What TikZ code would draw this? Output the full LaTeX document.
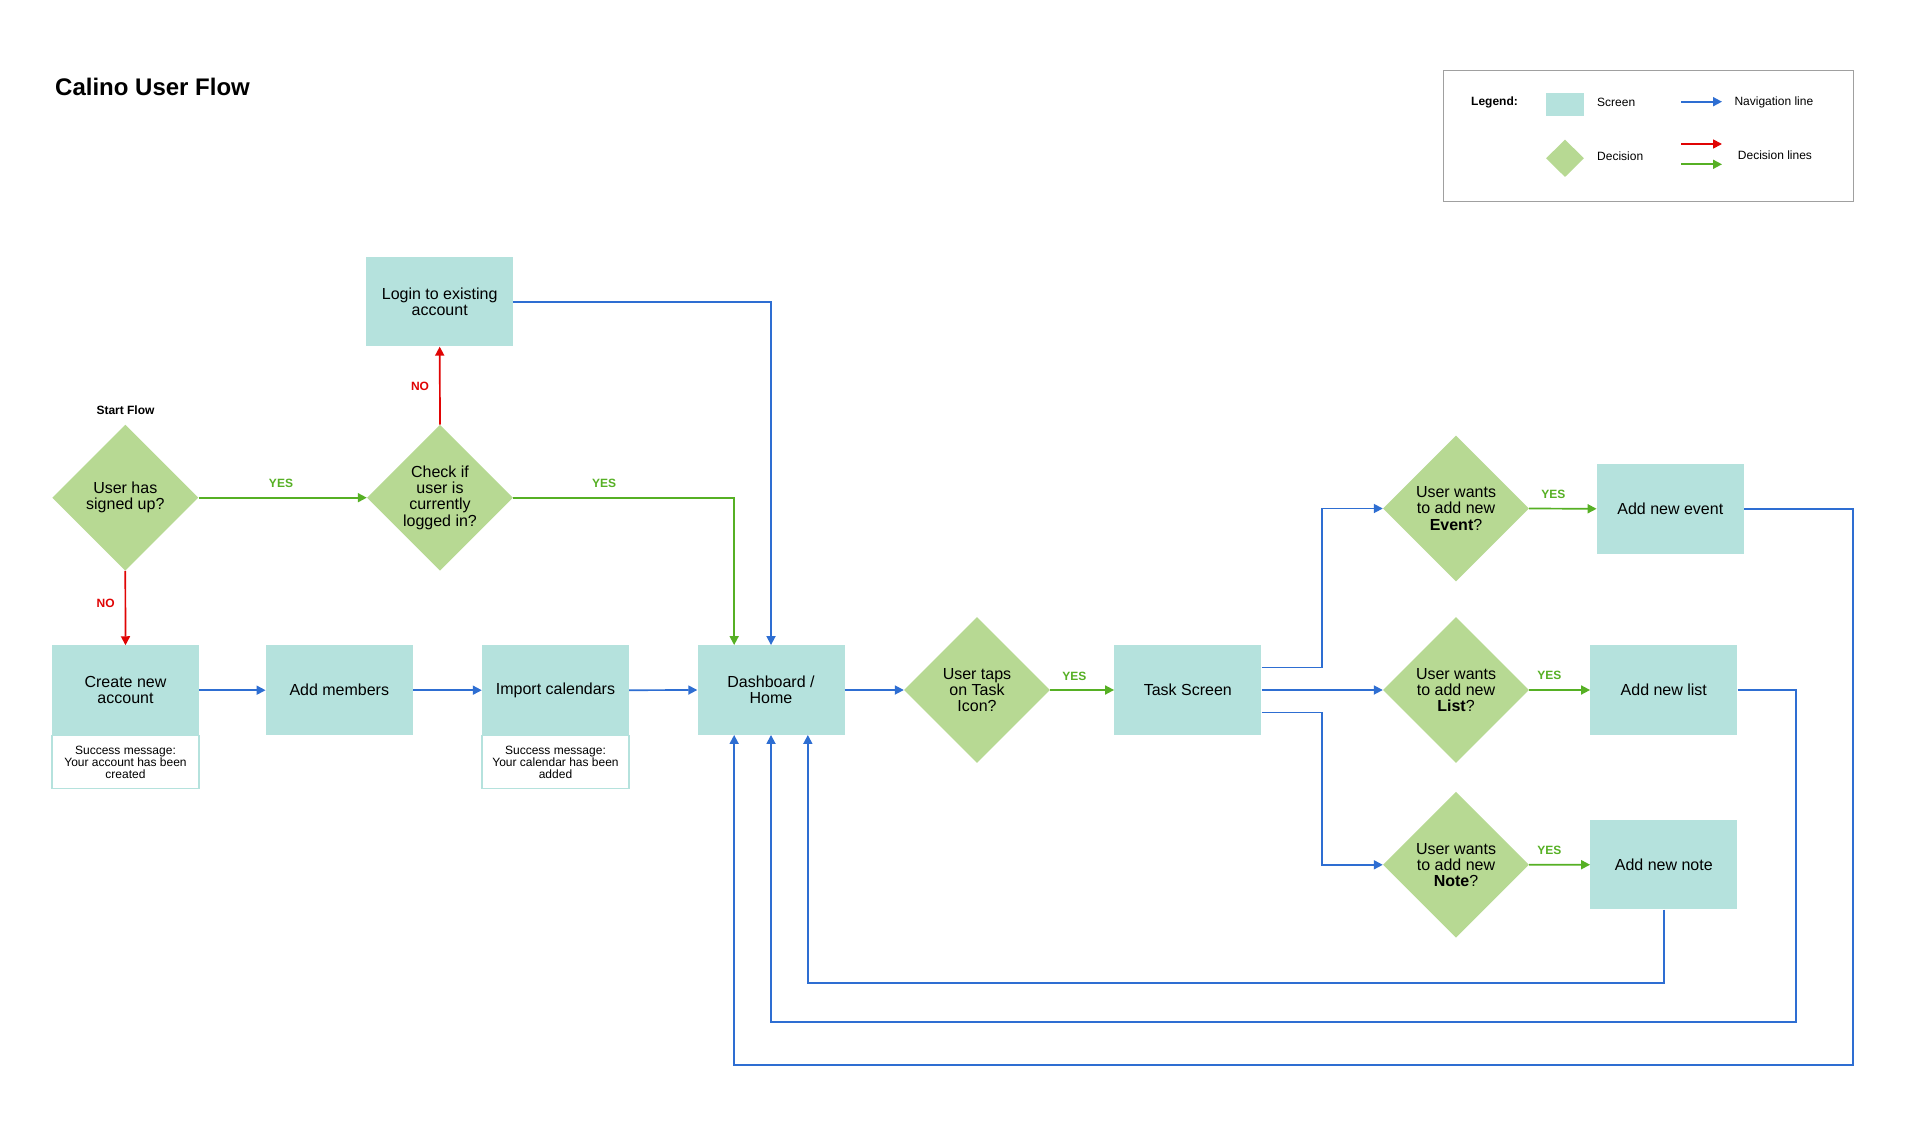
\documentclass[tikz,border=0pt]{standalone}
\usepackage{fontspec}
\setmainfont{Liberation Sans}
\usetikzlibrary{shapes.geometric,arrows.meta,calc}
\definecolor{boxfill}{RGB}{181,226,221}
\definecolor{decfill}{RGB}{183,217,147}
\definecolor{navblue}{RGB}{46,110,210}
\definecolor{decred}{RGB}{224,4,4}
\definecolor{decgreen}{RGB}{86,176,36}
\definecolor{legendgray}{RGB}{160,160,160}
\begin{document}
\begin{tikzpicture}[x=1pt,y=-1pt,
  screen/.style={fill=boxfill, draw=none, minimum width=147pt, minimum height=89.5pt, inner sep=0pt, align=center, font=\fontsize{16}{16.5}\selectfont},
  decision/.style={diamond, fill=decfill, draw=none, minimum width=146pt, minimum height=146pt, inner sep=0pt, align=center, font=\fontsize{16}{16.2}\selectfont},
  msg/.style={fill=white, draw=boxfill, line width=1.2pt, minimum width=147pt, minimum height=53pt, inner sep=0pt, align=center, font=\fontsize{12}{12}\selectfont},
  tip/.style={-{Triangle[length=9pt,width=9pt]}},
  nav/.style={draw=navblue, line width=1.7pt, tip},
  dyes/.style={draw=decgreen, line width=1.7pt, tip},
  dno/.style={draw=decred, line width=1.7pt, tip},
  yeslbl/.style={inner sep=0pt, text=decgreen, font=\bfseries\fontsize{12}{12}\selectfont},
  nolbl/.style={inner sep=0pt, text=decred, font=\bfseries\fontsize{12}{12}\selectfont},
  plain/.style={inner sep=0pt, font=\fontsize{12}{12}\selectfont},
  boldlbl/.style={inner sep=0pt, font=\bfseries\fontsize{12}{12}\selectfont}
]
\fill[white] (0,0) rectangle (1928,1145);
\useasboundingbox (0,0) rectangle (1928,1145);

% title
\node[anchor=west, inner sep=0pt, font=\bfseries\fontsize{24}{24}\selectfont] (title) at (55,86.7) {Calino User Flow};

% legend
\node[draw=legendgray, line width=1.3pt, minimum width=410pt, minimum height=131pt, inner sep=0pt] (legend) at (1648.3,136.2) {};
\node[boldlbl, anchor=west] (lgtitle) at (1471,102.3) {Legend:};
\node[fill=boxfill, minimum width=38.5pt, minimum height=23pt, inner sep=0pt] (lgscreen) at (1565.2,104.2) {};
\node[plain, anchor=west] (lgscreent) at (1597,102.3) {Screen};
\node[diamond, fill=decfill, minimum width=38pt, minimum height=37.5pt, inner sep=0pt] (lgdec) at (1565,158.3) {};
\node[plain, anchor=west] (lgdect) at (1597,156) {Decision};
\coordinate (ln1) at (1681,101.7);
\coordinate (ln2) at (1722,101.7);
\draw[nav] (ln1) -- (ln2);
\node[plain, anchor=west] (lgnavt) at (1734.3,102.3) {Navigation line};
\coordinate (lr1) at (1681,144);
\coordinate (lr2) at (1722,144);
\draw[dno] (lr1) -- (lr2);
\coordinate (lg1) at (1681,164.3);
\coordinate (lg2) at (1722,164.3);
\draw[dyes] (lg1) -- (lg2);
\node[plain, anchor=west] (lgdlt) at (1737.7,155.5) {Decision lines};

% start
\node[boldlbl] (start) at (125.5,410) {Start Flow};
\node[decision] (d1) at (125.3,497.7) {User has\\signed up?};
\node[decision] (d2) at (440,497.7) {Check if\\user is\\currently\\logged in?};
\node[screen] (login) at (439.7,301.7) {Login to existing\\account};

% main row
\node[screen] (create) at (125.5,690.2) {Create new\\account};
\node[msg, anchor=north] (createmsg) at (create.south) {Success message:\\Your account has been\\created};
\node[screen] (members) at (339.3,690.2) {Add members};
\node[screen] (import) at (555.5,690.2) {Import calendars};
\node[msg, anchor=north] (importmsg) at (import.south) {Success message:\\Your calendar has been\\added};
\node[screen] (dash) at (771,690) {Dashboard /\\Home};
\node[decision] (dtask) at (977,690) {User taps\\on Task\\Icon?};
\node[screen] (tasks) at (1187.8,690) {Task Screen};

% right branch
\node[decision] (devent) at (1456,508.5) {User wants\\to add new\\\textbf{Event}?};
\node[decision] (dlist) at (1456,690) {User wants\\to add new\\\textbf{List}?};
\node[decision] (dnote) at (1456,864.8) {User wants\\to add new\\\textbf{Note}?};
\node[screen] (evbox) at (1670.3,508.8) {Add new event};
\node[screen] (lsbox) at (1663.8,690) {Add new list};
\node[screen] (ntbox) at (1663.8,864.7) {Add new note};

% helper coordinates
\coordinate (dTop1) at ($(dash.north west)!0.5!(dash.north)$);
\coordinate (dBot1) at ($(dash.south west)!0.5!(dash.south)$);
\coordinate (dBot3) at ($(dash.south east)!0.5!(dash.south)$);
\coordinate (tOut1) at ($(tasks.east)!0.5!(tasks.north east)$);
\coordinate (tOut3) at ($(tasks.east)!0.5!(tasks.south east)$);
\coordinate (bx) at (1321.7,0);
\coordinate (evCorner) at (1853,1065);
\coordinate (lsCorner) at (1795.7,1022.3);
\coordinate (ntLevel) at (0,982.7);

% decision connectors
\draw[dyes] (d1.east) -- (d2.west);
\node[yeslbl] (yes1) at (281,483.3) {YES};
\draw[dno] (d1.south) -- (create.north);
\node[nolbl] (no1) at (105.7,603.3) {NO};
\draw[dno] (d2.north) -- (login.south);
\node[nolbl] (no2) at (420,386.7) {NO};
\draw[dyes] (d2.east) -| (dTop1);
\node[yeslbl] (yes2) at (604,483.3) {YES};
\draw[nav] (login.east) -| (dash.north);

% main flow
\draw[nav] (create.east) -- (members.west);
\draw[nav] (members.east) -- (import.west);
\draw[nav] (import.east) -- (dash.west);
\draw[nav] (dash.east) -- (dtask.west);
\draw[dyes] (dtask.east) -- (tasks.west);
\node[yeslbl] (yes3) at (1074.3,676) {YES};

% task screen branches
\draw[nav] (tOut1) -| (bx |- devent.west) -- (devent.west);
\draw[nav] (tasks.east) -- (dlist.west);
\draw[nav] (tOut3) -| (bx |- dnote.west) -- (dnote.west);

\draw[dyes] (devent.east) -- (evbox.west);
\node[yeslbl] (yes4) at (1553.3,494) {YES};
\draw[dyes] (dlist.east) -- (lsbox.west);
\node[yeslbl] (yes5) at (1549.3,675.5) {YES};
\draw[dyes] (dnote.east) -- (ntbox.west);
\node[yeslbl] (yes6) at (1549.3,850.4) {YES};

% returns to dashboard
\draw[nav] (evbox.east) -| (evCorner) -| (dBot1);
\draw[nav] (lsbox.east) -| (lsCorner) -| (dash.south);
\draw[nav] (ntbox.south) -- (ntbox.south |- ntLevel) -| (dBot3);
\end{tikzpicture}
\end{document}
